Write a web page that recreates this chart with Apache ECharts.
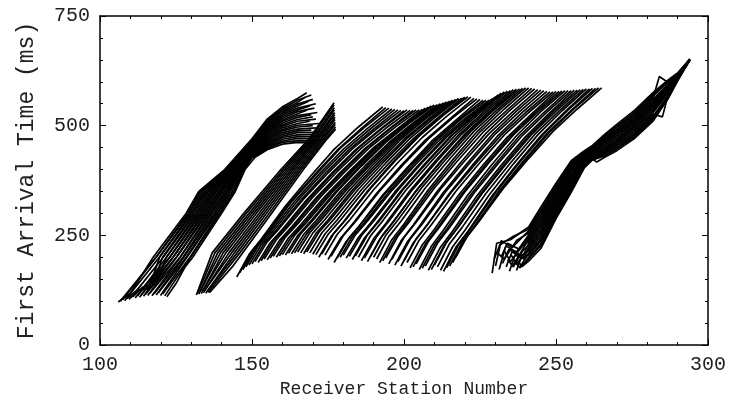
<!DOCTYPE html>
<html>
<head>
<meta charset="utf-8">
<script src="https://cdn.jsdelivr.net/npm/echarts@6/dist/echarts.min.js"></script>
<style>html,body{margin:0;padding:0;background:#fff}#c{width:729px;height:407px}</style>
</head>
<body>
<div id="c"></div>
<script>
// ---- axis ticks ----
const xTicks = [100, 150, 200, 250, 300];
const yTicks = [0, 250, 500, 750];

// ---- band A (left band): each trace as [station, time(ms)] ----
const bandA = [
 [[106,98],[110,118],[117.5,200],[128.3,300],[132.5,350],[141,400],[150,470],[155,515],[160,543],[165,562],[168,575]],
 [[106.7,100],[118.4,200],[128.8,300],[133,350],[141.3,400],[150,468],[155,512],[160,539],[165,558],[169.5,570]],
 [[107.4,103],[118.5,200],[129.3,300],[133.5,350],[141.6,400],[150,466],[155,509],[160,536],[165,553],[167.5,565]],
 [[108.1,101],[119.5,200],[129.8,300],[134.1,350],[141.9,400],[150,464],[155,506],[160,532],[165,549],[170,560]],
 [[108.8,106],[112,124],[116,128],[119.6,200],[130.3,300],[134.6,350],[142.2,400],[150,462],[155,503],[160,528],[165,545],[168.5,555]],
 [[109.5,104],[112.5,126],[117,131],[120.6,200],[130.8,300],[135.1,350],[142.5,400],[150,460],[155,500],[160,525],[165,540],[171,550]],
 [[110.2,108],[120.8,200],[131.4,300],[135.6,350],[142.7,400],[150,458],[155,497],[160,521],[165,536],[169,545]],
 [[110.9,110],[114,132],[118.5,138],[121.8,200],[131.9,300],[136.2,350],[143,400],[150,456],[155,494],[160,517],[165,532],[170.5,540]],
 [[111.6,107],[121.9,200],[132.4,300],[136.7,350],[143.3,400],[150,454],[155,491],[160,513],[165,527],[168,535]],
 [[112.3,112],[122.9,200],[132.9,300],[137.2,350],[143.6,400],[150,452],[155,488],[160,510],[165,523],[171.5,530]],
 [[113,109],[123,200],[133.4,300],[137.7,350],[143.9,400],[150,450],[155,485],[160,506],[165,519],[169.5,525]],
 [[113.6,114],[124,200],[133.9,300],[138.2,350],[144.2,400],[150,448],[155,482],[160,502],[165,514],[170,520]],
 [[114.3,111],[124.1,200],[134.4,300],[138.8,350],[144.5,400],[150,447],[155,478],[160,499],[165,510],[171,515]],
 [[115,116],[125.1,200],[134.9,300],[139.3,350],[144.8,400],[150,445],[155,475],[160,495],[165,505],[169,510]],
 [[115.7,113],[125.2,200],[135.4,300],[139.8,350],[145.1,400],[150,443],[155,472],[160,491],[165,501],[172,505]],
 [[116.4,118],[126.3,200],[135.9,300],[140.3,350],[145.4,400],[150,441],[155,469],[160,488],[165,497],[170,500]],
 [[117.1,112],[126.4,200],[136.4,300],[140.9,350],[145.7,400],[150,439],[155,466],[160,484],[165,492],[171,495]],
 [[117.8,117],[127.3,200],[136.9,300],[141.4,350],[146,400],[150,437],[155,463],[160,480],[165,488],[169.5,490]],
 [[118.5,114],[127.6,200],[137.5,300],[141.9,350],[146.2,400],[150,435],[155,460],[160,476],[165,484],[172,485]],
 [[119.2,119],[128.4,200],[138,300],[142.4,350],[146.5,400],[150,433],[155,457],[160,473],[165,479],[170.5,480]],
 [[119.9,113],[128.6,200],[138.5,300],[142.9,350],[146.8,400],[150,431],[155,454],[160,469],[165,475],[171.5,475]],
 [[120.6,116],[129.6,200],[139,300],[143.5,350],[147.1,400],[150,429],[155,451],[160,465],[165,471],[170,470]],
 [[121.3,112],[129.8,200],[139.5,300],[144,350],[147.4,400],[150,427],[155,448],[160,462],[165,466],[172,465]],
 [[122,110],[125,140],[128,178],[130.5,200],[136,258],[140,300],[144.5,350],[147.7,400],[151,428],[155,445],[160,458],[165,462],[171,460]]
];

// ---- band B ----
const bandB = [
 [[131.7,114],[136.9,210],[147.3,300],[159.5,400],[168.8,470],[177,552]],
 [[132.1,118],[137.8,210],[148.1,300],[160.2,400],[169.3,470],[177,547]],
 [[132.5,116],[138.7,210],[149,300],[160.8,400],[169.9,470],[177.1,541]],
 [[132.9,121],[139.6,210],[149.8,300],[161.5,400],[170.4,470],[177.1,536]],
 [[133.3,117],[140.5,210],[150.6,300],[162.2,400],[171,470],[177.2,530]],
 [[133.7,123],[141.4,210],[151.4,300],[162.9,400],[171.5,470],[177.2,525]],
 [[134,119],[142.4,210],[152.3,300],[163.5,400],[172,470],[177.3,519]],
 [[134.4,124],[143.3,210],[153.1,300],[164.2,400],[172.6,470],[177.3,514]],
 [[134.8,118],[144.2,210],[153.9,300],[164.9,400],[173.1,470],[177.4,508]],
 [[135.2,122],[145.1,210],[154.7,300],[165.6,400],[173.6,470],[177.4,503]],
 [[135.6,120],[146,210],[155.6,300],[166.2,400],[174.2,470],[177.5,497]],
 [[136,119],[143.5,178],[146.9,210],[156.4,300],[166.9,400],[174.7,470],[177.5,492]]
];

// ---- big central band: shot station and times (ms) at the receiver offsets below ----
const cdOffsets = [0, 4, 8, 16, 24, 32, 40, 48];
const cdShots = [145,146,147,148,149,150,151,152,153,154,155,156,157,158,159,160,161,162,163,164,165,166,167,168,169,170,171,172,173,174,175,176,177,178,179,180,181,182,183,184,185,186,187,188,189,190,191,192,193,194,195,196,197,198,199,200,201,202,203,204,205,206,207,208,209,210,211,212,213,214,215,216,217];
const cdTimes = [
 [155,206,241,317,383,446,497,543],
 [165,214,248,321,384,444,494,541],
 [172,220,253,326,388,448,496,540],
 [178,225,257,327,389,446,494,538],
 [182,228,260,329,390,446,493,537],
 [185,231,262,330,390,446,492,536],
 [190,235,266,333,392,447,493,535],
 [188,233,264,331,390,445,491,534],
 [192,237,268,335,394,449,495,536],
 [196,240,271,337,395,449,494,535],
 [194,238,269,335,393,447,492,535],
 [198,242,273,339,397,451,496,536],
 [202,246,276,341,398,452,496,536],
 [200,244,274,339,396,450,494,537],
 [203,247,277,342,399,453,497,540],
 [206,250,280,345,402,456,500,542],
 [205,249,280,346,404,458,503,545],
 [209,253,284,350,408,462,507,547],
 [208,252,283,349,407,461,506,548],
 [210,254,285,351,409,463,508,550],
 [212,256,287,353,411,465,510,552],
 [210,255,286,353,412,467,513,554],
 [208,254,285,353,413,469,515,556],
 [212,257,288,355,414,469,515,558],
 [210,256,287,355,415,471,517,560],
 [207,253,285,354,415,471,518,562],
 [206,252,284,353,414,470,517,563],
 [200,247,280,351,414,472,520,565],
 [208,255,287,357,419,476,524,566],
 [205,252,284,354,416,473,521,565],
 [195,242,275,346,409,467,515,562],
 [202,249,281,351,413,470,518,561],
 [188,236,269,342,404,464,512,560],
 [198,245,277,347,409,466,514,558],
 [200,247,279,349,411,468,516,558],
 [205,251,283,352,413,469,516,558],
 [198,245,278,349,412,470,518,561],
 [202,249,282,353,416,474,522,565],
 [195,244,278,351,414,474,524,570],
 [203,251,284,357,419,479,527,574],
 [200,249,283,356,419,479,529,577],
 [192,242,277,352,417,479,530,579],
 [198,247,282,356,420,481,531,580],
 [190,241,276,352,418,481,532,582],
 [202,251,286,360,424,485,535,583],
 [200,250,285,360,425,487,538,584],
 [196,247,282,358,424,487,538,585],
 [188,240,276,354,422,486,539,586],
 [192,243,279,356,423,486,538,586],
 [198,248,283,358,423,485,536,585],
 [185,237,273,351,419,483,536,584],
 [195,245,280,355,420,482,533,582],
 [182,234,270,348,416,480,533,581],
 [190,241,276,352,418,481,532,580],
 [180,232,268,346,414,478,531,578],
 [192,242,277,352,417,479,530,577],
 [188,239,274,350,416,479,530,577],
 [176,228,264,342,410,474,527,578],
 [178,230,266,344,412,476,529,578],
 [185,236,272,349,416,479,531,579],
 [172,225,262,342,412,477,532,580],
 [175,228,264,343,412,477,530,580],
 [180,232,268,346,414,478,531,580],
 [170,223,260,340,410,475,530,581],
 [172,225,262,342,412,477,532,581],
 [182,234,270,348,416,480,533,582],
 [178,231,267,346,415,480,533,583],
 [170,224,261,342,413,479,534,584],
 [168,222,259,340,411,477,532,584],
 [176,229,266,346,416,481,536,585],
 [180,233,269,348,417,482,535,585],
 [188,240,276,354,422,486,539,586],
 [200,250,285,360,425,487,538,586]
];

// ---- band E (right band) ----
const bandE = [
 [[229,164],[230.5,232],[235,240],[241,269],[245,314],[250,369],[255,420],[259,441],[262,455],[266,480],[270,503],[276,536],[282,576],[287,605],[290,620],[294,652]],
 [[229.6,195],[231.5,228],[236,248],[241,264],[245,308],[250,364],[255,416],[259,439],[262,453],[266,477],[270,499],[276,532],[282,572],[287,603],[290,619],[294,650]],
 [[230.1,180],[232,238],[235.5,222],[241,260],[245,303],[250,359],[255,412],[259,436],[262,451],[266,474],[270,496],[276,528],[282,568],[287,600],[290,618],[294,651]],
 [[230.7,210],[233,196],[237,238],[241,255],[245,297],[250,355],[255,407],[259,434],[262,449],[266,471],[270,492],[276,525],[282,565],[284,612],[287,598],[290,617],[294,649]],
 [[231.3,172],[233.5,226],[237,212],[241,251],[245,292],[250,350],[255,403],[259,431],[262,447],[266,468],[270,489],[276,521],[282,561],[287,595],[290,616],[294,650]],
 [[231.9,200],[234,232],[238,218],[241,246],[245,286],[250,345],[255,399],[259,429],[262,445],[266,465],[270,485],[276,517],[282,557],[287,593],[290,615],[294,652]],
 [[232.4,186],[234.5,218],[238,206],[241,241],[245,281],[250,340],[255,395],[259,427],[262,443],[266,462],[270,482],[276,513],[282,553],[287,590],[290,614],[294,650]],
 [[233,215],[235,190],[238.5,222],[241,237],[245,275],[250,336],[255,390],[259,424],[262,441],[266,459],[270,478],[276,510],[282,549],[287,588],[290,613],[294,649]],
 [[233.6,178],[235.5,212],[239,200],[241,232],[245,270],[250,331],[255,386],[259,422],[262,439],[266,456],[270,475],[276,506],[282,545],[287,585],[290,612],[294,651]],
 [[234.1,195],[236,178],[239,214],[241,228],[245,264],[250,326],[255,382],[259,419],[262,436],[266,452],[270,471],[276,502],[282,542],[287,583],[290,610],[294,650]],
 [[234.7,168],[236.5,205],[239.5,196],[241,223],[245,259],[250,321],[255,378],[259,417],[262,434],[266,449],[270,468],[276,498],[282,538],[287,580],[290,609],[294,648]],
 [[235.3,205],[237,184],[239.5,206],[241,219],[245,253],[250,317],[255,373],[259,414],[262,432],[266,446],[270,464],[276,495],[282,534],[287,578],[290,608],[294,650]],
 [[235.8,182],[237.5,200],[241,214],[245,248],[250,312],[255,369],[259,412],[262,430],[266,443],[270,461],[276,491],[282,530],[287,575],[290,607],[294,651]],
 [[236.4,192],[238,176],[241,209],[245,242],[250,307],[255,365],[259,410],[262,428],[266,440],[270,457],[276,487],[282,526],[285,520],[287,573],[290,606],[294,649]],
 [[237,170],[238.5,198],[241,205],[245,237],[250,302],[255,361],[259,407],[262,426],[266,437],[270,454],[276,483],[282,522],[287,570],[290,605],[294,650]],
 [[237.6,188],[239,180],[241,200],[245,231],[250,298],[255,356],[259,405],[262,424],[266,434],[270,450],[276,480],[282,519],[287,568],[290,604],[294,652]],
 [[238.1,176],[239.5,186],[241,196],[245,226],[250,293],[255,352],[259,402],[262,422],[266,431],[270,447],[276,476],[282,515],[287,565],[290,603],[294,650]],
 [[238.7,178],[241,191],[245,220],[250,288],[255,348],[259,400],[261,429],[263.4,417],[266,428],[270,443],[276,472],[282,511],[287,563],[290,602],[294,649]]
];

// ---- build option ----
const FONT = '"Liberation Mono", "DejaVu Sans Mono", monospace';
const INK = '#000';
function traceSeries(data) {
  return {
    type: 'line', data: data, showSymbol: false, symbol: 'none',
    lineStyle: { color: INK, width: 1.7 }, silent: true, animation: false, z: 3
  };
}
const series = [];
bandA.forEach(t => series.push(traceSeries(t)));
bandB.forEach(t => series.push(traceSeries(t)));
cdShots.forEach((s, i) => {
  series.push(traceSeries(cdTimes[i].map((v, j) => [s + cdOffsets[j], v])));
});
bandE.forEach(t => series.push(traceSeries(t)));

const labelStyle = { fontFamily: FONT, fontSize: 20, color: '#222' };
function xAx(pos, showLabel) {
  return {
    type: 'value', position: pos, min: xTicks[0], max: xTicks[xTicks.length - 1],
    interval: xTicks[1] - xTicks[0],
    axisLine: { show: true, onZero: false, lineStyle: { color: INK, width: 1.5 } },
    axisTick: { show: true, inside: true, length: 6, lineStyle: { color: INK, width: 1 } },
    minorTick: { show: true, splitNumber: 5, length: 3, lineStyle: { color: INK, width: 1 } },
    splitLine: { show: false },
    axisLabel: Object.assign({ show: showLabel, margin: 10 }, labelStyle),
    name: showLabel ? 'Receiver Station Number' : '',
    nameLocation: 'middle', nameGap: 35,
    nameTextStyle: { fontFamily: FONT, fontSize: 18, color: '#222' }
  };
}
function yAx(pos, showLabel) {
  return {
    type: 'value', position: pos, min: yTicks[0], max: yTicks[yTicks.length - 1],
    interval: yTicks[1] - yTicks[0],
    axisLine: { show: true, onZero: false, lineStyle: { color: INK, width: 1.5 } },
    axisTick: { show: true, inside: true, length: 6, lineStyle: { color: INK, width: 1 } },
    minorTick: { show: true, splitNumber: 5, length: 3, lineStyle: { color: INK, width: 1 } },
    splitLine: { show: false },
    axisLabel: Object.assign({ show: showLabel, margin: 10 }, labelStyle),
    name: showLabel ? 'First Arrival Time (ms)' : '',
    nameLocation: 'middle', nameGap: 62, nameRotate: 90,
    nameTextStyle: { fontFamily: FONT, fontSize: 23, color: '#222' }
  };
}

const chart = echarts.init(document.getElementById('c'), null, { renderer: 'canvas' });
chart.setOption({
  animation: false,
  backgroundColor: '#fff',
  grid: { left: 100, top: 16, width: 609.5, height: 329, containLabel: false },
  xAxis: [xAx('bottom', true), xAx('top', false)],
  yAxis: [yAx('left', true), yAx('right', false)],
  series: series
});
</script>
</body>
</html>
